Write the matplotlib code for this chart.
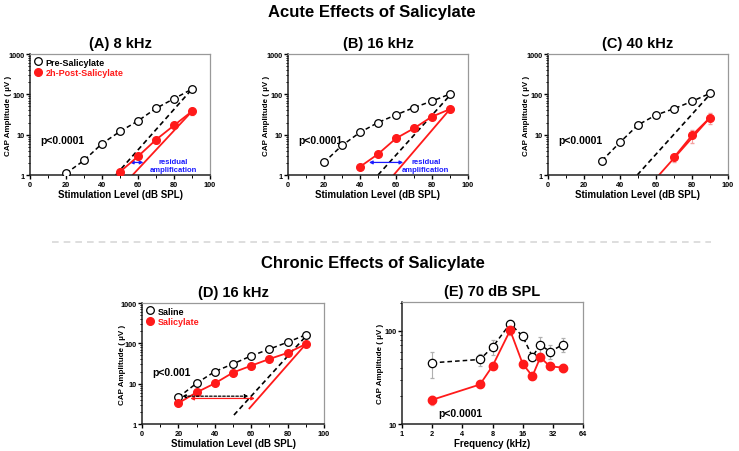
import matplotlib.pyplot as plt
from matplotlib.lines import Line2D
from matplotlib.ticker import FixedLocator, NullFormatter, MultipleLocator

plt.rcParams['font.family'] = ['Liberation Sans', 'DejaVu Sans']
plt.rcParams['font.weight'] = 'bold'

# ---- data ----
levels = [20, 30, 40, 50, 60, 70, 80, 90]

# (A) 8 kHz
a_pre = [1.1, 2.3, 6.0, 12, 22, 45, 78, 135]
a_post_x = [50, 60, 70, 80, 90]
a_post = [1.2, 2.9, 7.5, 17, 38]
a_post_err = [0.2, 0.4, 1.2, 2.5, 7]
a_fit_pre = ([47.6, 90], [1, 135])
a_fit_post = ([57, 90], [1, 38])
a_arrow = (55.5, 63, 2.05)

# (B) 16 kHz
b_pre = [2.05, 5.4, 11.4, 20, 31, 47, 68, 102]
b_post_x = [40, 50, 60, 70, 80, 90]
b_post = [1.6, 3.3, 8.1, 14.4, 28, 43]
b_post_err = [0.2, 0.4, 1.0, 2, 4, 6]
b_fit_pre = ([50, 90], [1, 95])
b_fit_post = ([58.7, 90], [1, 43])
b_arrow = (45, 64, 2.05)

# (C) 40 kHz
c_pre_x = [30, 40, 50, 60, 70, 80, 90]
c_pre = [2.27, 6.45, 17.4, 30.8, 44, 67, 106]
c_post_x = [70, 80, 90]
c_post = [2.74, 9.6, 26.4]
c_post_err = [0.6, 3.5, 8]
c_fit_pre = ([49.6, 90], [1, 100])
c_fit_post = ([61.7, 90], [1, 26.4])

# (D) chronic, 16 kHz
d_saline = [4.6, 10.3, 20, 31, 49, 72, 107, 163]
d_salicylate = [3.3, 6.1, 10.2, 18.9, 28, 41, 58, 96]
d_salicylate_err = [0.3, 0.5, 0.8, 1.5, 2, 3, 4, 6]
d_fit_saline = ([50.5, 90], [1.67, 150])
d_fit_salicylate = ([59, 90], [2.45, 96])
d_arrow_saline = (22, 58.5, 4.9)
d_arrow_salicylate = (26.5, 62, 4.3)

# (E) chronic, 70 dB SPL
freqs = [2, 6, 8, 12, 16, 20, 24, 30, 40]
e_saline = [45.5, 49.4, 67, 120, 87.5, 53, 71, 60, 71]
e_saline_lo = [14.5, 7.4, 12, 10, 7, 6, 13, 10, 12]
e_saline_hi = [14.5, 7.6, 13, 10, 7, 5, 15, 10, 14]
e_salicylate = [18.2, 26.6, 42, 101.6, 44.4, 32.7, 52, 41.6, 40.5]
e_salicylate_err = [2.0, 1.5, 3, 12, 3, 2, 4, 3, 4]

RED = '#ff1a1a'
BLUE = '#1a1aff'
YLABEL = 'CAP Amplitude ( \u00b5V )'
fig = plt.figure(figsize=(7.39, 4.52), dpi=100)


def style_axes(ax):
    for s in ['left', 'bottom']:
        ax.spines[s].set_linewidth(1.1)
        ax.spines[s].set_color('#222222')
    for s in ['top', 'right']:
        ax.spines[s].set_color('#999999')
        ax.spines[s].set_linewidth(0.9)
    ax.tick_params(which='major', direction='out', length=2.8, width=1, labelsize=5.3, pad=1.2)
    ax.tick_params(which='minor', direction='out', length=1.8, width=0.7)
    for lab in ax.get_xticklabels() + ax.get_yticklabels():
        lab.set_fontweight('bold')


def level_panel(rect, title, pre_x, pre, post_x, post, post_err, fit_pre, fit_post, ptext, ylab_x):
    ax = fig.add_axes(rect)
    ax.set_yscale('log')
    ax.set_xlim(0, 100)
    ax.set_ylim(1, 1000)
    ax.plot(*fit_pre, color='black', ls=(0, (3, 2)), lw=1.2, zorder=2)
    ax.plot(*fit_post, color=RED, lw=1.3, zorder=2)
    ax.plot(pre_x, pre, color='black', ls=(0, (3, 2)), lw=1.1, marker='o', ms=5.5,
            mfc='white', mec='black', mew=0.9, zorder=4)
    ax.errorbar(post_x, post, yerr=post_err, color=RED, lw=1.3, marker='o', ms=5.5,
                ecolor='#f4a0a0', elinewidth=0.8, capsize=1.5, zorder=5)
    ax.set_yticks([1, 10, 100, 1000])
    ax.set_yticklabels(['1', '10', '100', '1000'])
    ax.yaxis.set_minor_formatter(NullFormatter())
    ax.xaxis.set_major_locator(MultipleLocator(20))
    ax.xaxis.set_minor_locator(MultipleLocator(10))
    ax.set_xlabel('Stimulation Level (dB SPL)', fontsize=7, fontweight='bold', labelpad=1)
    ax.set_ylabel(YLABEL, fontsize=5.8, fontweight='bold')
    ax.yaxis.set_label_coords(ylab_x, 0.5)
    ax.set_title(title, fontsize=10.5, fontweight='bold', pad=5)
    if ptext:
        ax.text(5.6, 7.5, ptext, fontsize=7.5, fontweight='bold', va='center')
    style_axes(ax)
    return ax


def residual(ax, arrow, tx):
    x0, x1, y = arrow
    ax.annotate('', xy=(x0, y), xytext=(x1, y),
                arrowprops=dict(arrowstyle='<|-|>', color=BLUE, lw=0.9,
                                mutation_scale=5, shrinkA=0, shrinkB=0))
    ax.text(tx, 1.72, 'residual\namplification', color=BLUE, fontsize=5.5,
            fontweight='bold', ha='center', va='center', linespacing=1.3)


def legend(ax, labels):
    h = [Line2D([], [], ls='none', marker='o', ms=5.5, mfc='white', mec='black', mew=0.9),
         Line2D([], [], ls='none', marker='o', ms=5.5, color=RED)]
    leg = ax.legend(h, labels, loc='upper left', frameon=False, fontsize=6.5,
                    handletextpad=0.3, borderaxespad=0.2, labelspacing=0.15,
                    handlelength=1.0, borderpad=0.2)
    leg.get_texts()[0].set_color('black')
    leg.get_texts()[1].set_color(RED)
    for t in leg.get_texts():
        t.set_fontweight('bold')


ax_a = level_panel([0.0406, 0.6106, 0.2436, 0.2677], '(A) 8 kHz', levels, a_pre,
                   a_post_x, a_post, a_post_err, a_fit_pre, a_fit_post, 'p<0.0001', -0.1)
residual(ax_a, a_arrow, 79.6)
legend(ax_a, ['Pre-Salicylate', '2h-Post-Salicylate'])

ax_b = level_panel([0.3897, 0.6106, 0.2436, 0.2677], '(B) 16 kHz', levels, b_pre,
                   b_post_x, b_post, b_post_err, b_fit_pre, b_fit_post, 'p<0.0001', -0.1)
residual(ax_b, b_arrow, 76.5)

ax_c = level_panel([0.7415, 0.6106, 0.2436, 0.2677], '(C) 40 kHz', c_pre_x, c_pre,
                   c_post_x, c_post, c_post_err, c_fit_pre, c_fit_post, 'p<0.0001', -0.1)

# (D)
ax_d = level_panel([0.1922, 0.0597, 0.2463, 0.2677], '(D) 16 kHz', levels, d_saline,
                   levels, d_salicylate, d_salicylate_err,
                   d_fit_saline, d_fit_salicylate, '', -0.09)
ax_d.text(5.7, 20, 'p<0.001', fontsize=7.5, fontweight='bold', va='center')
legend(ax_d, ['Saline', 'Salicylate'])
x0, x1, y = d_arrow_salicylate
ax_d.annotate('', xy=(x0, y), xytext=(x1, y),
              arrowprops=dict(arrowstyle='<|-|>', color=RED, lw=0.9,
                              mutation_scale=5, shrinkA=0, shrinkB=0), zorder=6)
x0, x1, y = d_arrow_saline
ax_d.annotate('', xy=(x0, y), xytext=(x1, y),
              arrowprops=dict(arrowstyle='<|-|>', color='black', lw=0.9, ls=(0, (2, 1.5)),
                              mutation_scale=5, shrinkA=0, shrinkB=0), zorder=6)

# (E)
ax_e = fig.add_axes([0.544, 0.0597, 0.2449, 0.27])
ax_e.set_xscale('log', base=2)
ax_e.set_yscale('log')
ax_e.errorbar(freqs, e_saline, yerr=[e_saline_lo, e_saline_hi], color='black',
              ls=(0, (3, 2)), lw=1.1, marker='o', ms=6, mfc='white', mec='black', mew=0.9,
              ecolor='#b0b0b0', elinewidth=0.8, capsize=1.5, zorder=4)
ax_e.errorbar(freqs, e_salicylate, yerr=e_salicylate_err, color=RED, lw=1.3,
              marker='o', ms=6, ecolor='#f4a0a0', elinewidth=0.8, capsize=1.5, zorder=5)
ax_e.set_xlim(1, 64)
ax_e.set_ylim(10, 205)
ax_e.xaxis.set_major_locator(FixedLocator([1, 2, 4, 8, 16, 32, 64]))
ax_e.set_xticklabels(['1', '2', '4', '8', '16', '32', '64'])
ax_e.xaxis.set_minor_locator(FixedLocator([]))
ax_e.set_yticks([10, 100])
ax_e.set_yticklabels(['10', '100'])
ax_e.yaxis.set_minor_formatter(NullFormatter())
ax_e.set_xlabel('Frequency (kHz)', fontsize=7, fontweight='bold', labelpad=1)
ax_e.set_ylabel(YLABEL, fontsize=5.8, fontweight='bold')
ax_e.yaxis.set_label_coords(-0.097, 0.5)
ax_e.set_title('(E) 70 dB SPL', fontsize=10.5, fontweight='bold', pad=5)
ax_e.text(2.3, 13.1, 'p<0.0001', fontsize=7.5, fontweight='bold', va='center')
style_axes(ax_e)

# section headings and separator
fig.text(0.503, 0.973, 'Acute Effects of Salicylate', ha='center', va='center',
         fontsize=12, fontweight='bold')
fig.text(0.505, 0.418, 'Chronic Effects of Salicylate', ha='center', va='center',
         fontsize=12, fontweight='bold')
fig.add_artist(Line2D([0.07, 0.962], [0.462, 0.462], color='#d8d8d8', lw=1.2,
                      ls=(0, (4, 3))))

fig.savefig('out.png', dpi=100)
